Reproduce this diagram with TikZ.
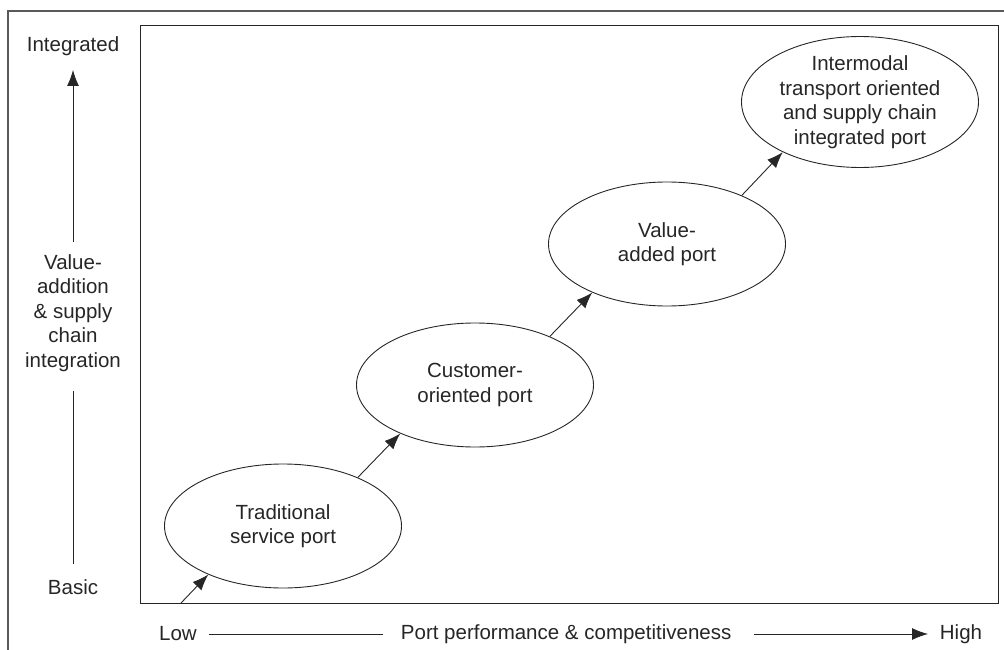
\documentclass[tikz,border=0pt]{standalone}
\usepackage{fontspec}
\setmainfont{Liberation Sans}
\usetikzlibrary{shapes.geometric,arrows.meta}
\tikzset{
	port/.style={ellipse, draw=black!85, line width=0.9pt,
		minimum width=237pt, minimum height=124pt,
		inner sep=0pt, align=center},
	tip/.style={-{Latex[length=16pt,width=12pt]}, line width=0.9pt, black!85},
	axis/.style={line width=0.9pt, black!85},
	lbl/.style={inner sep=0pt, align=center}
}

\begin{document}
\begin{tikzpicture}[x=1pt, y=-1pt,
	font=\fontsize{20.5}{24.5}\selectfont, text=black!85]
	\useasboundingbox (0,0) rectangle (1004,650);
	% frames
	\draw [ line width=1.5pt, black!65 ] (8,650) -- (8,11) -- (1004,11);
	\draw [ line width=1pt, black!85 ] (140,26) rectangle (998,603);
	% ports
	\node [port] (p1) at (283,526) 
		{ Traditional\\service port };
	\node [port] (p2) at (475,385) 
		{ Customer-\\oriented port };
	\node [port] (p3) at (667,244) 
		{ Value-\\added port };
	\node [port] (p4) at (860,102) 
		{ Intermodal\\transport oriented\\and supply chain\\integrated port };
	\coordinate (p0) at (181,603);
	\draw [ tip ] (p0) to (p1.213);
	\draw [ tip ] (p1.33) to (p2.213);
	\draw [ tip ] (p2.33) to (p3.213);
	\draw [ tip ] (p3.33) to (p4.213);
	% vertical axis
	\node [lbl] (integ) at (73,46) {Integrated};
	\node [lbl] (yname) at (73,313) 
		{ Value-\\addition\\\&~supply\\chain\\integration };
	\node [lbl] (basic) at (73,587) {Basic};
	\coordinate (ya) at (73,242);
	\coordinate (yb) at (73,70);
	\coordinate (yc) at (73,391);
	\coordinate (yd) at (73,564);
	\draw [ tip ] (ya) to (yb);
	\draw [ axis ] (yc) to (yd);
	% horizontal axis
	\node [lbl] (low) at (178,634) {Low};
	\node [lbl] (xname) at (569,634) 
		{ Port performance \& competitiveness };
	\node [lbl] (high) at (961,634) {High};
	\coordinate (xa) at (209,634);
	\coordinate (xb) at (383,634);
	\coordinate (xc) at (754,634);
	\coordinate (xd) at (928,634);
	\draw [ axis ] (xa) to (xb);
	\draw [ tip ] (xc) to (xd);
\end{tikzpicture}
\end{document}
